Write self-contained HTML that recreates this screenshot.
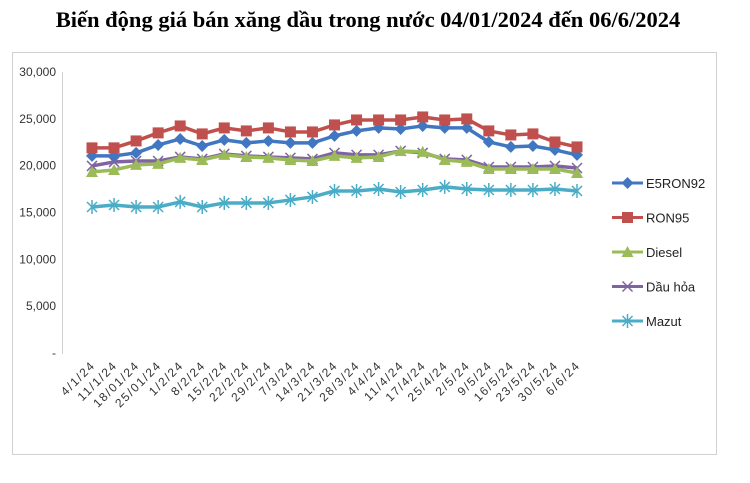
<!DOCTYPE html>
<html><head><meta charset="utf-8"><style>
body{margin:0;background:#fff;width:750px;height:478px;overflow:hidden;font-family:"Liberation Sans",sans-serif}
</style></head><body>
<svg id="chart" width="750" height="478" xmlns="http://www.w3.org/2000/svg">
<text x="368" y="27" text-anchor="middle" font-family="Liberation Serif, serif" font-weight="bold" font-size="22.5" fill="#000">Biến động giá bán xăng dầu trong nước 04/01/2024 đến 06/6/2024</text>
<rect x="12.5" y="52.5" width="704" height="402" fill="none" stroke="#d0d0d0"/>
<line x1="62.5" y1="72" x2="62.5" y2="354" stroke="#d0d0d0"/>
<g id="ticks"></g><g id="series"></g><g id="legend"></g>
</svg>
<script>
const categories=["4/1/24","11/1/24","18/01/24","25/01/24","1/2/24","8/2/24","15/2/24","22/2/24","29/2/24","7/3/24","14/3/24","21/3/24","28/3/24","4/4/24","11/4/24","17/4/24","25/4/24","2/5/24","9/5/24","16/5/24","23/5/24","30/5/24","6/6/24"];
const yTicks=[0,5000,10000,15000,20000,25000,30000];
const yTickLabels=["-","5,000","10,000","15,000","20,000","25,000","30,000"];
const seriesNames=["E5RON92","RON95","Diesel","Dầu hỏa","Mazut"];
const e5ron92=[21040,21040,21360,22210,22850,22100,22750,22430,22640,22430,22430,23180,23710,24030,23920,24240,24030,24030,22530,22000,22100,21680,21150];
const ron95=[21900,21900,22640,23500,24240,23390,24030,23710,24030,23600,23600,24350,24880,24880,24880,25200,24880,24990,23710,23280,23390,22530,22000];
const diesel=[19330,19540,20080,20190,20830,20610,21150,20930,20830,20610,20500,21040,20830,20930,21570,21470,20610,20400,19650,19650,19650,19650,19220];
const dauHoa=[19970,20400,20500,20500,20930,20720,21250,21040,20930,20830,20720,21360,21150,21150,21570,21360,20720,20610,19860,19860,19860,19970,19750];
const mazut=[15590,15800,15590,15590,16130,15590,16020,16020,16020,16340,16660,17300,17300,17510,17190,17400,17730,17510,17400,17400,17400,17510,17300];
const NS="http://www.w3.org/2000/svg";
const y0=353,y1=72,vmax=30000,xStart=92,xEnd=577;
function yScale(v){return y0-(v/vmax)*(y0-y1);}
function xScale(i){return xStart+i*(xEnd-xStart)/(categories.length-1);}
function mk(tag,attrs,parent){const e=document.createElementNS(NS,tag);for(const k in attrs)e.setAttribute(k,attrs[k]);parent.appendChild(e);return e;}
const tg=document.getElementById('ticks');
yTicks.forEach((t,i)=>{const e=mk('text',{x:56,y:yScale(t)+4,'text-anchor':'end','font-size':12,fill:'#333'},tg);


e.textContent=yTickLabels[i];});
categories.forEach((c,i)=>{const x=xScale(i);const e=mk('text',{x:x+4,y:366,'text-anchor':'end','font-size':12,'letter-spacing':'1.6',fill:'#333',transform:`rotate(-45 ${x+4} 366)`},tg);


e.textContent=c;});
const colors=["#4177c0","#c0504d","#9bbb59","#8064a2","#4bacc6"];
const datasets=[e5ron92,ron95,diesel,dauHoa,mazut];
function marker(k,x,y,g){const c=colors[k];
if(k===0)return mk('path',{d:`M${x} ${y-6}L${x+6} ${y}L${x} ${y+6}L${x-6} ${y}Z`,fill:c},g);
if(k===1)return mk('rect',{x:x-5.5,y:y-5.5,width:11,height:11,fill:c},g);
if(k===2)return mk('path',{d:`M${x} ${y-6}L${x+6} ${y+5}L${x-6} ${y+5}Z`,fill:c},g);
if(k===3)return mk('path',{d:`M${x-5} ${y-5}L${x+5} ${y+5}M${x+5} ${y-5}L${x-5} ${y+5}`,stroke:c,'stroke-width':1.5},g);
return mk('path',{d:`M${x-5} ${y-5}L${x+5} ${y+5}M${x+5} ${y-5}L${x-5} ${y+5}M${x} ${y-7}L${x} ${y+7}`,stroke:c,'stroke-width':1.5},g);}
const sg=document.getElementById('series');
[3,2,4,0,1].forEach(k=>{const g=mk('g',{},sg);


const pts=datasets[k].map((v,i)=>xScale(i)+','+yScale(v)).join(' ');
const l=mk('polyline',{points:pts,fill:'none',stroke:colors[k],'stroke-width':3.5,'stroke-linejoin':'round'},g);


datasets[k].forEach((v,i)=>{const m=marker(k,xScale(i),yScale(v),g);

});});
const lg=document.getElementById('legend');
seriesNames.forEach((n,k)=>{const y=183+k*34.5;const g=mk('g',{},lg);


mk('line',{x1:612,y1:y,x2:643,y2:y,stroke:colors[k],'stroke-width':3},g);
marker(k,627.5,y,g);
const t=mk('text',{x:646,y:y+5,'font-size':13,fill:'#222'},g);
t.textContent=n;});
</script>
</body></html>
